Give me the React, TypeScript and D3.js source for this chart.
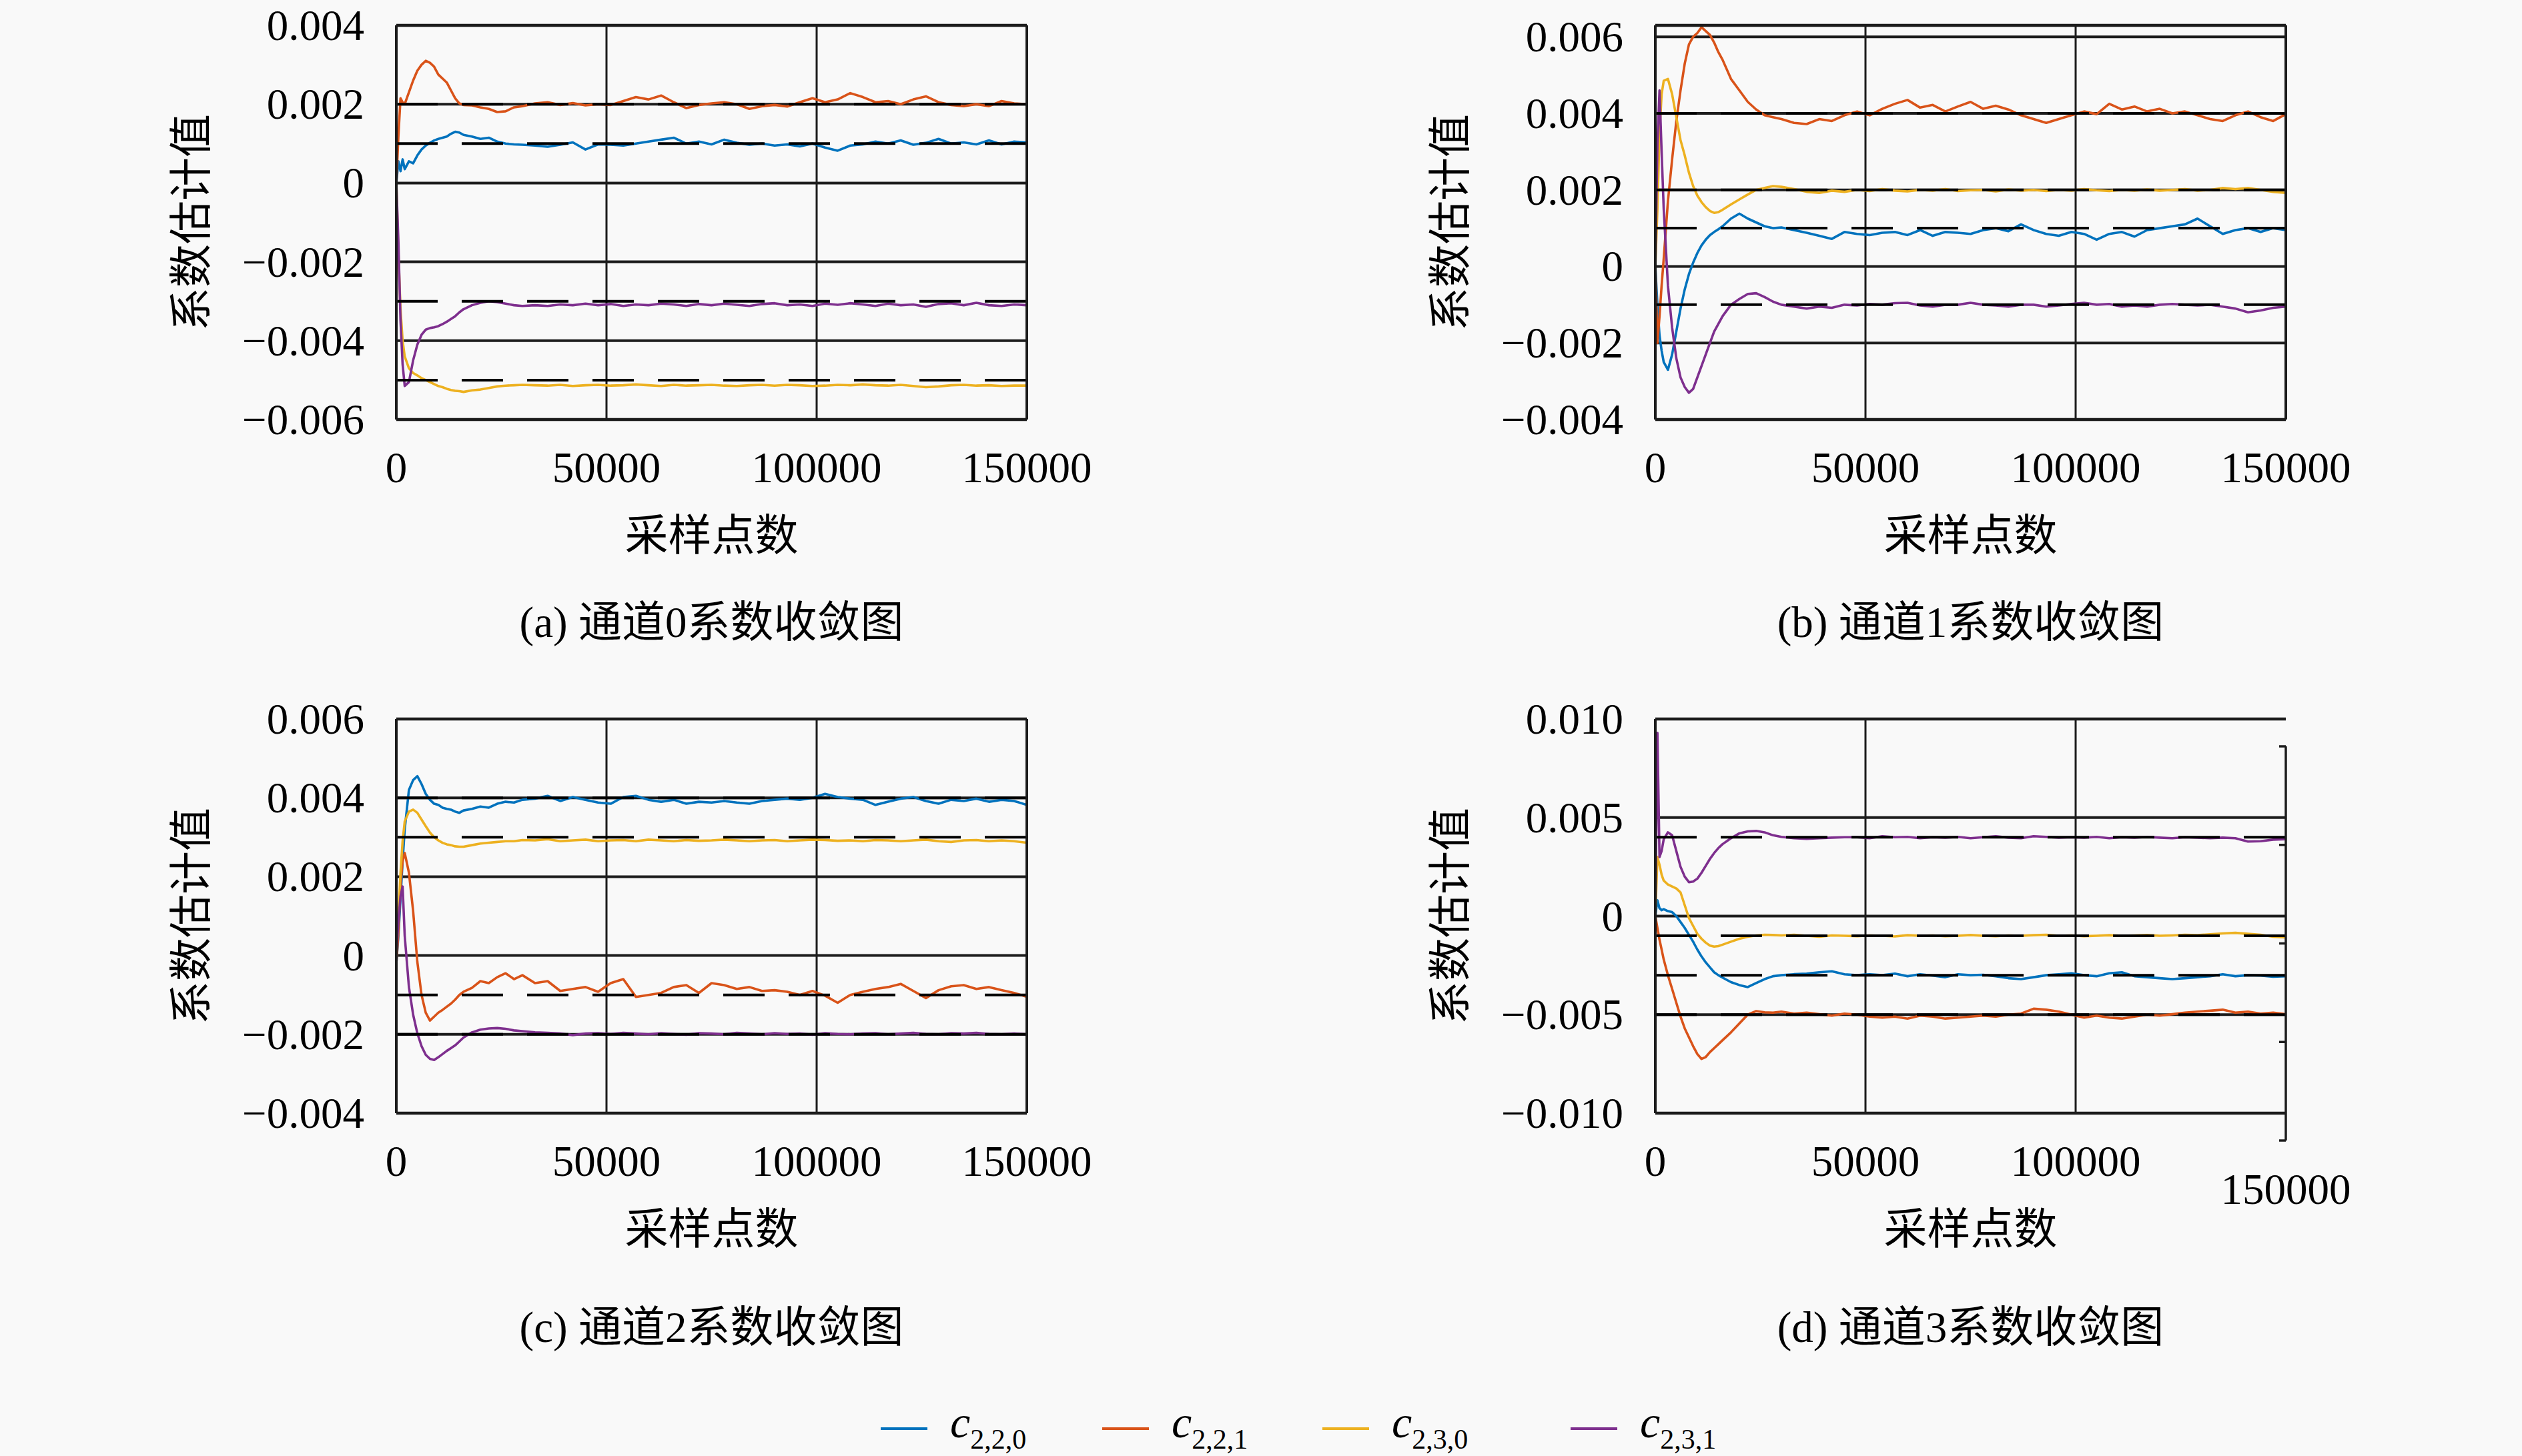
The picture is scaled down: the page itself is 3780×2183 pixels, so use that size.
import React from 'react';
import * as d3 from 'd3';

// ---------- data (coefficient values in units of 1e-3) ----------
const UNIT = 1e-3;
const SAMPLES = [0, 500, 1000, 1500, 2000, 3000, 4000, 5000, 6000, 7000, 8000, 9000, 10000, 11000, 12000, 13000, 14000, 15000, 16000, 18000, 20000, 22000, 24000, 26000, 28000, 30000,
  33000, 36000, 39000, 42000, 45000, 48000, 51000, 54000, 57000, 60000, 63000, 66000, 69000, 72000, 75000, 78000, 81000, 84000, 87000, 90000, 93000, 96000, 99000, 102000,
  105000, 108000, 111000, 114000, 117000, 120000, 123000, 126000, 129000, 132000, 135000, 138000, 141000, 144000, 147000, 150000];

const SERIES_NAMES = ['2,2,0', '2,2,1', '2,3,0', '2,3,1'];
const X_TICKS = [0, 50000, 100000, 150000];

// panel (a) channel 0
const A_C220 = [0, 0.55, 0.3, 0.6, 0.35, 0.55, 0.5, 0.7, 0.85, 0.95, 1.02, 1.08, 1.12, 1.15, 1.18, 1.25, 1.3, 1.28, 1.22, 1.18, 1.12, 1.15, 1.05, 1.0, 0.98, 0.97,
  0.95, 0.92, 0.97, 1.03, 0.85, 0.98, 0.97, 0.95, 1.0, 1.05, 1.1, 1.15, 1.0, 1.05, 0.98, 1.1, 1.02, 0.97, 1.0, 0.95, 0.98, 0.93, 1.0, 0.9,
  0.82, 0.95, 0.98, 1.05, 1.0, 1.08, 0.97, 1.02, 1.12, 1.0, 1.03, 0.98, 1.08, 0.98, 1.05, 1.03];
const A_C221 = [0, 1.2, 2.15, 2.05, 2.0, 2.3, 2.6, 2.85, 3.0, 3.1, 3.05, 2.95, 2.75, 2.65, 2.55, 2.35, 2.15, 2.02, 1.98, 1.97, 1.92, 1.88, 1.8, 1.82, 1.92, 1.95,
  2.02, 2.05, 1.98, 2.03, 1.97, 2.0, 1.98, 2.08, 2.18, 2.12, 2.22, 2.05, 1.9, 1.98, 2.02, 2.05, 2.0, 1.88, 1.95, 1.98, 1.94, 2.05, 2.15, 2.05,
  2.12, 2.28, 2.18, 2.05, 2.08, 2.0, 2.12, 2.2, 2.05, 1.98, 1.95, 2.0, 1.95, 2.08, 2.02, 2.0];
const A_C230 = [0, -1.8, -3.2, -4.0, -4.4, -4.7, -4.82, -4.88, -4.95, -5.0, -5.05, -5.1, -5.15, -5.18, -5.22, -5.25, -5.27, -5.28, -5.3, -5.26, -5.24, -5.2, -5.16, -5.14, -5.13, -5.12,
  -5.13, -5.14, -5.12, -5.15, -5.13, -5.12, -5.14, -5.13, -5.11, -5.13, -5.15, -5.12, -5.14, -5.13, -5.12, -5.14, -5.15, -5.13, -5.12, -5.14, -5.12, -5.13, -5.15, -5.14,
  -5.12, -5.13, -5.11, -5.13, -5.14, -5.12, -5.15, -5.18, -5.16, -5.13, -5.12, -5.14, -5.13, -5.15, -5.14, -5.14];
const A_C231 = [0, -1.5, -3.5, -4.6, -5.15, -5.05, -4.5, -4.1, -3.85, -3.72, -3.68, -3.66, -3.63, -3.58, -3.52, -3.45, -3.38, -3.28, -3.2, -3.1, -3.04, -3.0, -3.02, -3.06, -3.1, -3.12,
  -3.1, -3.12, -3.08, -3.1, -3.06, -3.1, -3.07, -3.12, -3.08, -3.1, -3.06, -3.08, -3.12, -3.07, -3.1, -3.06, -3.09, -3.12, -3.07, -3.05,
  -3.1, -3.08, -3.12, -3.06, -3.09, -3.05, -3.08, -3.12, -3.06, -3.1, -3.08, -3.14, -3.07, -3.05, -3.1, -3.04, -3.1, -3.12, -3.08, -3.1];

// panel (b) channel 1
const B_C220 = [0, -1.0, -1.8, -2.2, -2.5, -2.7, -2.3, -1.7, -1.1, -0.6, -0.2, 0.1, 0.35, 0.55, 0.7, 0.82, 0.9, 0.97, 1.05, 1.25, 1.38, 1.25, 1.15, 1.05, 1.0, 1.02,
  0.95, 0.88, 0.8, 0.72, 0.9, 0.85, 0.82, 0.88, 0.9, 0.82, 0.95, 0.8, 0.9, 0.88, 0.85, 0.95, 1.0, 0.92, 1.1, 0.95,
  0.85, 0.8, 0.9, 0.85, 0.7, 0.85, 0.9, 0.78, 0.95, 1.0, 1.05, 1.1, 1.25, 1.05, 0.85, 0.95, 1.0, 0.9, 1.0, 0.95];
const B_C221 = [0, -2.0, -1.3, -0.5, 0.2, 1.7, 2.8, 3.8, 4.6, 5.3, 5.8, 6.0, 6.1, 6.25, 6.15, 6.05, 5.85, 5.6, 5.4, 4.9, 4.6, 4.3, 4.1, 3.95, 3.9, 3.85,
  3.75, 3.72, 3.85, 3.8, 3.95, 4.05, 3.95, 4.12, 4.25, 4.35, 4.15, 4.22, 4.05, 4.18, 4.3, 4.12, 4.2, 4.1, 3.95, 3.85,
  3.75, 3.85, 3.95, 4.05, 3.98, 4.25, 4.1, 4.18, 4.05, 4.12, 4.0, 4.05, 3.95, 3.85, 3.8, 3.95, 4.05, 3.9, 3.8, 3.98];
const B_C230 = [0, 1.5, 3.5, 4.5, 4.85, 4.9, 4.5, 3.9, 3.3, 2.9, 2.45, 2.1, 1.85, 1.68, 1.55, 1.45, 1.4, 1.42, 1.48, 1.62, 1.75, 1.88, 2.0, 2.05, 2.1, 2.08,
  2.02, 1.95, 1.92, 1.98, 1.95, 2.0, 1.97, 2.02, 1.98, 1.96, 2.0, 1.98, 2.02, 1.97, 1.99, 2.0, 1.96, 2.01, 1.98, 2.0,
  1.97, 2.0, 1.98, 2.02, 1.99, 1.97, 2.0, 1.98, 2.01, 1.98, 2.0, 2.02, 1.98, 2.0, 2.05, 2.02, 2.05, 2.0, 1.95, 1.92];
const B_C231 = [0, 3.2, 4.6, 3.0, 1.5, -0.5, -1.6, -2.4, -2.9, -3.15, -3.3, -3.2, -2.9, -2.6, -2.3, -2.0, -1.7, -1.5, -1.3, -1.0, -0.85, -0.72, -0.7, -0.8, -0.92, -1.0,
  -1.05, -1.1, -1.05, -1.08, -1.0, -1.02, -0.98, -1.0, -0.96, -0.95, -1.02, -1.05, -1.0, -1.0, -0.95, -1.0, -1.02, -1.05, -1.0, -1.0,
  -1.05, -1.02, -0.98, -0.95, -1.0, -0.98, -1.05, -1.02, -1.05, -1.0, -0.98, -1.0, -1.02, -1.0, -1.05, -1.1, -1.2, -1.15, -1.08, -1.05];

// panel (c) channel 2
const C_C220 = [-0.2, 0.5, 1.45, 2.4, 3.2, 4.2, 4.45, 4.55, 4.35, 4.1, 3.95, 3.85, 3.82, 3.75, 3.72, 3.7, 3.65, 3.62, 3.68, 3.72, 3.78, 3.75, 3.85, 3.9, 3.88, 3.95,
  3.98, 4.05, 3.92, 4.02, 3.95, 3.88, 3.85, 4.02, 4.05, 3.95, 3.9, 3.95, 3.85, 3.9, 3.88, 3.92, 3.88, 3.85, 3.92, 3.95,
  3.98, 3.95, 4.0, 4.1, 4.02, 3.98, 3.95, 3.82, 3.9, 3.98, 4.02, 3.92, 3.85, 3.95, 3.92, 3.98, 3.9, 3.95, 3.92, 3.82];
const C_C221 = [-0.2, 0.6, 1.8, 2.4, 2.6, 2.1, 1.13, -0.16, -1.0, -1.45, -1.65, -1.55, -1.45, -1.38, -1.3, -1.22, -1.12, -1.0, -0.92, -0.82, -0.65, -0.7, -0.55, -0.45, -0.6, -0.5,
  -0.7, -0.65, -0.9, -0.85, -0.8, -0.92, -0.7, -0.6, -1.05, -1.0, -0.95, -0.8, -0.75, -0.95, -0.7, -0.75, -0.85, -0.8, -0.9, -0.88,
  -0.92, -1.0, -0.9, -1.02, -1.2, -1.0, -0.92, -0.85, -0.8, -0.72, -0.9, -1.08, -0.88, -0.78, -0.75, -0.85, -0.8, -0.88, -0.95, -1.05];
const C_C230 = [0, 1.0, 2.1, 2.9, 3.4, 3.65, 3.7, 3.62, 3.45, 3.28, 3.12, 3.0, 2.92, 2.86, 2.82, 2.8, 2.77, 2.76, 2.76, 2.8, 2.84, 2.86, 2.88, 2.9, 2.9, 2.93,
  2.92, 2.95, 2.9, 2.92, 2.94, 2.9, 2.92, 2.93, 2.9, 2.94, 2.92, 2.9, 2.93, 2.91, 2.92, 2.94, 2.92, 2.9, 2.92, 2.93,
  2.9, 2.92, 2.94, 2.93, 2.91, 2.92, 2.9, 2.93, 2.92, 2.9, 2.92, 2.94, 2.9, 2.88, 2.92, 2.93, 2.9, 2.92, 2.9, 2.86];
const C_C231 = [0, 0.9, 1.5, 1.75, 0.5, -0.8, -1.5, -1.97, -2.3, -2.52, -2.62, -2.65, -2.58, -2.5, -2.42, -2.35, -2.28, -2.18, -2.08, -1.95, -1.88, -1.85, -1.84, -1.86, -1.9, -1.92,
  -1.95, -1.96, -1.98, -2.02, -1.98, -1.97, -1.99, -1.96, -1.98, -2.0, -1.97, -1.99, -2.01, -1.97, -1.98, -2.0, -1.96, -1.98, -2.0, -1.97,
  -1.99, -1.98, -2.01, -1.97, -1.99, -2.0, -1.98, -1.97, -2.0, -1.98, -1.96, -1.99, -2.0, -1.97, -1.98, -1.96, -1.99, -2.0, -1.98, -2.0];

// panel (d) channel 3
const D_C220 = [0, 0.8, 0.4, 0.3, 0.35, 0.25, 0.2, 0.0, -0.3, -0.6, -0.95, -1.3, -1.7, -2.05, -2.35, -2.6, -2.85, -3.0, -3.12, -3.35, -3.5, -3.6, -3.4, -3.2, -3.05, -3.0,
  -2.95, -2.92, -2.85, -2.8, -2.95, -3.0, -2.95, -3.0, -2.92, -3.05, -2.95, -3.02, -3.1, -2.95, -3.0, -2.98, -3.05, -3.15, -3.2, -3.1,
  -3.0, -2.95, -2.9, -3.0, -3.05, -2.9, -2.85, -3.05, -3.1, -3.15, -3.2, -3.15, -3.1, -3.05, -2.95, -3.05, -3.0, -3.02, -3.08, -3.05];
const D_C221 = [0, -0.6, -1.2, -1.7, -2.2, -3.0, -3.7, -4.4, -5.1, -5.7, -6.15, -6.6, -7.0, -7.25, -7.15, -6.9, -6.7, -6.5, -6.3, -5.9, -5.45, -5.0, -4.82, -4.88, -4.9, -4.85,
  -4.95, -4.9, -4.98, -5.05, -4.95, -5.0, -5.1, -5.15, -5.1, -5.2, -5.05, -5.1, -5.2, -5.15, -5.1, -5.05, -5.1, -5.0, -4.95, -4.7,
  -4.75, -4.85, -5.0, -5.15, -5.05, -5.15, -5.2, -5.1, -5.0, -5.05, -4.98, -4.9, -4.85, -4.8, -4.75, -4.9, -4.85, -4.95, -4.9, -4.98];
const D_C230 = [0, 3.0, 2.6, 2.1, 1.8, 1.6, 1.5, 1.4, 1.2, 0.55, -0.1, -0.5, -0.9, -1.15, -1.35, -1.5, -1.55, -1.52, -1.45, -1.3, -1.15, -1.05, -0.98, -0.95, -0.96, -0.98,
  -0.95, -1.0, -1.05, -0.98, -1.0, -1.02, -0.98, -1.0, -1.03, -0.97, -1.0, -0.98, -1.02, -1.0, -0.96, -1.0, -1.02, -0.98, -1.0, -0.97,
  -0.95, -1.0, -0.98, -1.02, -1.0, -0.97, -1.0, -0.98, -0.96, -1.0, -0.98, -0.95, -0.97, -0.92, -0.88, -0.85, -0.9, -0.95, -1.05, -1.08];
const D_C231 = [0, 9.3, 3.0, 3.3, 3.9, 4.25, 4.1, 3.3, 2.5, 2.0, 1.72, 1.75, 1.9, 2.2, 2.55, 2.9, 3.2, 3.45, 3.65, 3.95, 4.2, 4.3, 4.32, 4.25, 4.1, 4.02,
  3.95, 3.92, 3.95, 3.98, 4.0, 4.0, 3.95, 4.05, 4.0, 4.02, 3.95, 4.0, 3.98, 4.02, 3.95, 4.0, 4.05, 3.98, 3.95, 4.05,
  4.02, 3.98, 4.0, 3.98, 4.02, 3.95, 4.0, 3.98, 4.02, 3.98, 3.95, 4.0, 3.98, 3.95, 3.98, 3.95, 3.78, 3.8, 3.88, 3.9];

// true (reference) coefficient values
const TRUE_A = [0.001, 0.002, -0.005, -0.003];
const TRUE_B = [0.001, 0.004, 0.002, -0.001];
const TRUE_C = [0.004, -0.001, 0.003, -0.002];
const TRUE_D = [-0.003, -0.005, -0.001, 0.004];

const Y_TICKS_A = [0.004, 0.002, 0, -0.002, -0.004, -0.006];
const Y_TICKS_B = [0.006, 0.004, 0.002, 0, -0.002, -0.004];
const Y_TICKS_C = [0.006, 0.004, 0.002, 0, -0.002, -0.004];
const Y_TICKS_D = [0.01, 0.005, 0, -0.005, -0.01];
const Y_DOMAIN_A = [-0.006, 0.004];
const Y_DOMAIN_B = [-0.004, 0.0063];
const Y_DOMAIN_C = [-0.004, 0.006];
const Y_DOMAIN_D = [-0.01, 0.01];

const CAPTIONS = ['(a) 通道0系数收敛图', '(b) 通道1系数收敛图', '(c) 通道2系数收敛图', '(d) 通道3系数收敛图'];
const X_TITLE = '采样点数';
const Y_TITLE = '系数估计值';

// ---------- styles / layout ----------
const W = 3780, H = 2183;
const FONT = "'Liberation Serif', 'Noto Sans CJK SC', serif";
const COLORS = ['#0072BD', '#D95319', '#EDB120', '#7E2F8E'];
const INK = '#1c1c1c';
const PW = 945, PH = 591;

const PANELS = [
  { id: 'a', left: 594, top: 38, series: [A_C220, A_C221, A_C230, A_C231], truth: TRUE_A, yTicks: Y_TICKS_A, yDomain: Y_DOMAIN_A, caption: CAPTIONS[0], capDy: 917, oddRight: false },
  { id: 'b', left: 2481, top: 38, series: [B_C220, B_C221, B_C230, B_C231], truth: TRUE_B, yTicks: Y_TICKS_B, yDomain: Y_DOMAIN_B, caption: CAPTIONS[1], capDy: 917, oddRight: false },
  { id: 'c', left: 594, top: 1078, series: [C_C220, C_C221, C_C230, C_C231], truth: TRUE_C, yTicks: Y_TICKS_C, yDomain: Y_DOMAIN_C, caption: CAPTIONS[2], capDy: 934, oddRight: false },
  { id: 'd', left: 2481, top: 1078, series: [D_C220, D_C221, D_C230, D_C231], truth: TRUE_D, yTicks: Y_TICKS_D, yDomain: Y_DOMAIN_D, caption: CAPTIONS[3], capDy: 934, oddRight: true },
];

const LEGEND_X = [1320, 1652, 1982, 2354];

const fmtY = (v: number) => (Math.abs(v) < 1e-12 ? '0' : d3.format('.3f')(v));

function Panel({ p }: { p: any }) {
  const x = d3.scaleLinear().domain([0, 150000]).range([0, PW]);
  const y = d3.scaleLinear().domain(p.yDomain).range([PH, 0]);
  const line = d3.line<number>().x((_, i) => x(SAMPLES[i])).y((v) => y(v * UNIT));
  const clipId = `clip-${p.id}`;
  const shift = 41;
  return (
    <g transform={`translate(${p.left},${p.top})`}>
      <defs>
        <clipPath id={clipId}>
          <rect x={0} y={0} width={PW} height={PH} />
        </clipPath>
      </defs>
      {/* grid */}
      {p.yTicks.map((t: number) => (
        <line key={`gy${t}`} x1={0} x2={PW} y1={y(t)} y2={y(t)} stroke={INK} strokeWidth={4} />
      ))}
      {X_TICKS.slice(1, -1).map((t) => (
        <line key={`gx${t}`} x1={x(t)} x2={x(t)} y1={0} y2={PH} stroke={INK} strokeWidth={3} />
      ))}
      {/* series */}
      <g clipPath={`url(#${clipId})`}>
        {p.series.map((s: number[], i: number) => (
          <path key={i} d={line(s) || ''} fill="none" stroke={COLORS[i]} strokeWidth={3.6} strokeLinejoin="round" />
        ))}
        {p.truth.map((t: number, i: number) => (
          <line key={`t${i}`} x1={0} x2={PW} y1={y(t)} y2={y(t)} stroke="#000" strokeWidth={4} strokeDasharray="62 36" />
        ))}
      </g>
      {/* frame */}
      <line x1={0} x2={PW} y1={0} y2={0} stroke={INK} strokeWidth={4.5} />
      <line x1={0} x2={PW} y1={PH} y2={PH} stroke={INK} strokeWidth={4.5} />
      <line x1={0} x2={0} y1={0} y2={PH} stroke={INK} strokeWidth={4} />
      {!p.oddRight && <line x1={PW} x2={PW} y1={0} y2={PH} stroke={INK} strokeWidth={4} />}
      {p.oddRight && (
        <g transform={`translate(0,${shift})`}>
          <line x1={PW} x2={PW} y1={0} y2={PH} stroke={INK} strokeWidth={3.5} />
          {p.yTicks.map((t: number) => (
            <line key={`rt${t}`} x1={PW - 10} x2={PW} y1={y(t)} y2={y(t)} stroke={INK} strokeWidth={3.5} />
          ))}
        </g>
      )}
      {/* y tick labels */}
      {p.yTicks.map((t: number) => (
        <text key={`yl${t}`} x={-48} y={y(t) + 22} textAnchor="end" fontSize={65} fontFamily={FONT} fill="#000">
          {fmtY(t)}
        </text>
      ))}
      {/* x tick labels */}
      {X_TICKS.map((t, i) => (
        <text key={`xl${t}`} x={x(t)} y={PH + 94 + (p.oddRight && i === X_TICKS.length - 1 ? 42 : 0)} textAnchor="middle" fontSize={65} fontFamily={FONT} fill="#000">
          {t}
        </text>
      ))}
      {/* axis titles */}
      <text x={PW / 2} y={PH + 196} textAnchor="middle" fontSize={65} fontFamily={FONT} fill="#000">{X_TITLE}</text>
      <text transform={`translate(${-307},${PH / 2}) rotate(-90)`} textAnchor="middle" dominantBaseline="central" fontSize={65} fontFamily={FONT} fill="#000">{Y_TITLE}</text>
      {/* caption */}
      <text x={PW / 2} y={p.capDy} textAnchor="middle" fontSize={65} fontFamily={FONT} fill="#000">{p.caption}</text>
    </g>
  );
}

export default function App() {
  return (
    <svg width={W} height={H} viewBox={`0 0 ${W} ${H}`} style={{ position: 'absolute', left: 0, top: 0, display: 'block' }}>
      <rect x={0} y={0} width={W} height={H} fill="#f9f9f9" />
      {PANELS.map((p) => (
        <Panel key={p.id} p={p} />
      ))}
      <g>
        {SERIES_NAMES.map((n, i) => (
          <g key={n}>
            <line x1={LEGEND_X[i]} x2={LEGEND_X[i] + 70} y1={2142} y2={2142} stroke={COLORS[i]} strokeWidth={4} />
            <text x={LEGEND_X[i] + 104} y={2155} fontFamily={FONT} fill="#000">
              <tspan fontStyle="italic" fontSize={68}>c</tspan>
              <tspan fontSize={42} dy={17}>{n}</tspan>
            </text>
          </g>
        ))}
      </g>
    </svg>
  );
}
